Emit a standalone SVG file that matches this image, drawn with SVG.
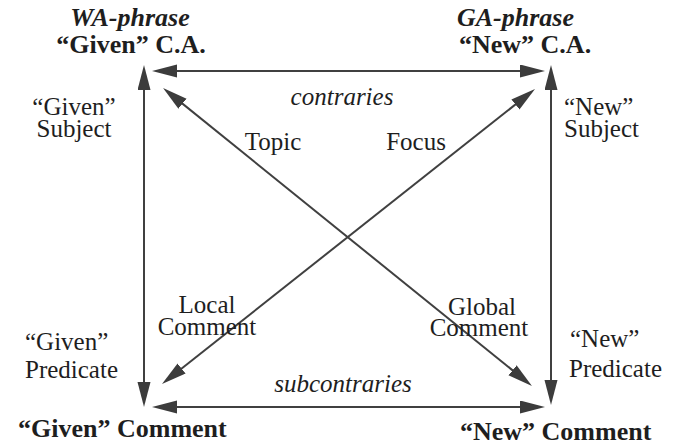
<svg xmlns="http://www.w3.org/2000/svg" width="682" height="447" viewBox="0 0 682 447">
<style>
.ln{stroke:#404040;stroke-width:2;fill:none;marker-start:url(#ah);marker-end:url(#ah)}
</style>
<defs>
<marker id="ah" markerUnits="userSpaceOnUse" markerWidth="26" markerHeight="14" refX="14" refY="6.5" orient="auto-start-reverse" viewBox="0 0 26 14">
<path d="M0,0 L25,6.5 L0,13 Z" fill="#3c3c3c"/>
</marker>
</defs>
<g id="connectors">
<line class="ln" x1="144" y1="76" x2="144" y2="396"/>
<line class="ln" x1="551" y1="76" x2="551" y2="394"/>
<line class="ln" x1="163" y1="71" x2="534" y2="71"/>
<line class="ln" x1="163" y1="407" x2="534" y2="407"/>
<line class="ln" x1="171.6" y1="94.9" x2="523.4" y2="379.1"/>
<line class="ln" x1="526.4" y1="95.8" x2="170.6" y2="377.2"/>
</g>
<g id="given-ca">
<text x="130" y="26" font-family="Liberation Serif" font-size="26" font-weight="bold" font-style="italic" text-anchor="middle" fill="#1e1e1e">WA-phrase</text>
<text x="131" y="53" font-family="Liberation Serif" font-size="26" font-weight="bold" text-anchor="middle" fill="#1e1e1e">“Given” C.A.</text>
</g>
<g id="new-ca">
<text x="457" y="26" font-family="Liberation Serif" font-size="26" font-weight="bold" font-style="italic" fill="#1e1e1e">GA-phrase</text>
<text x="459" y="53" font-family="Liberation Serif" font-size="26" font-weight="bold" fill="#1e1e1e">“New” C.A.</text>
</g>
<g id="given-comment">
<text x="18" y="437" font-family="Liberation Serif" font-size="26" font-weight="bold" fill="#1e1e1e">“Given” Comment</text>
</g>
<g id="new-comment">
<text x="460" y="440" font-family="Liberation Serif" font-size="26" font-weight="bold" fill="#1e1e1e">“New” Comment</text>
</g>
<g id="labels">
<text x="74" y="115" font-family="Liberation Serif" font-size="25" text-anchor="middle" fill="#1e1e1e">“Given”</text>
<text x="74" y="137" font-family="Liberation Serif" font-size="25" text-anchor="middle" fill="#1e1e1e">Subject</text>
<text x="564" y="115" font-family="Liberation Serif" font-size="25" fill="#1e1e1e">“New”</text>
<text x="564" y="137" font-family="Liberation Serif" font-size="25" fill="#1e1e1e">Subject</text>
<text x="25" y="350" font-family="Liberation Serif" font-size="25" fill="#1e1e1e">“Given”</text>
<text x="25" y="378" font-family="Liberation Serif" font-size="25" fill="#1e1e1e">Predicate</text>
<text x="570" y="347" font-family="Liberation Serif" font-size="25" fill="#1e1e1e">“New”</text>
<text x="569" y="377" font-family="Liberation Serif" font-size="25" fill="#1e1e1e">Predicate</text>
<text x="342" y="105" font-family="Liberation Serif" font-size="25" font-style="italic" text-anchor="middle" fill="#1e1e1e">contraries</text>
<text x="343" y="392" font-family="Liberation Serif" font-size="25" font-style="italic" text-anchor="middle" fill="#1e1e1e">subcontraries</text>
<text x="273" y="150" font-family="Liberation Serif" font-size="25" text-anchor="middle" fill="#1e1e1e">Topic</text>
<text x="416" y="150" font-family="Liberation Serif" font-size="25" text-anchor="middle" fill="#1e1e1e">Focus</text>
<text x="207" y="313" font-family="Liberation Serif" font-size="25" text-anchor="middle" fill="#1e1e1e">Local</text>
<text x="207" y="335" font-family="Liberation Serif" font-size="25" text-anchor="middle" fill="#1e1e1e">Comment</text>
<text x="482" y="315" font-family="Liberation Serif" font-size="25" text-anchor="middle" fill="#1e1e1e">Global</text>
<text x="479" y="336" font-family="Liberation Serif" font-size="25" text-anchor="middle" fill="#1e1e1e">Comment</text>
</g>
</svg>
